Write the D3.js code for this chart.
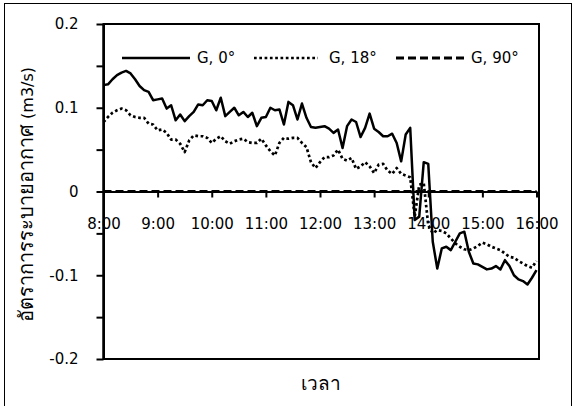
<!DOCTYPE html>
<html>
<head>
<meta charset="utf-8">
<script src="https://cdn.jsdelivr.net/npm/d3@7"></script>
<style>
  html, body { margin: 0; padding: 0; background: #fff; }
  svg text { font-family: "DejaVu Sans", Tahoma, sans-serif; fill: #000; }
</style>
</head>
<body>
<svg id="chart" width="575" height="406"></svg>
<script>
// Sample times, every 5 minutes from 8:00 to 16:00
const times = [
  "8:00","8:05","8:10","8:15","8:20","8:25","8:30","8:35","8:40","8:45","8:50","8:55",
  "9:00","9:05","9:10","9:15","9:20","9:25","9:30","9:35","9:40","9:45","9:50","9:55",
  "10:00","10:05","10:10","10:15","10:20","10:25","10:30","10:35","10:40","10:45","10:50","10:55",
  "11:00","11:05","11:10","11:15","11:20","11:25","11:30","11:35","11:40","11:45","11:50","11:55",
  "12:00","12:05","12:10","12:15","12:20","12:25","12:30","12:35","12:40","12:45","12:50","12:55",
  "13:00","13:05","13:10","13:15","13:20","13:25","13:30","13:35","13:40","13:45","13:50","13:55",
  "14:00","14:05","14:10","14:15","14:20","14:25","14:30","14:35","14:40","14:45","14:50","14:55",
  "15:00","15:05","15:10","15:15","15:20","15:25","15:30","15:35","15:40","15:45","15:50","15:55",
  "16:00"
];

// Ventilation rate (m3/s)
const g0 = [
  0.127,0.128,0.134,0.139,0.142,0.144,0.141,0.134,0.126,0.121,0.119,0.109,
  0.110,0.111,0.099,0.103,0.085,0.092,0.084,0.090,0.095,0.104,0.103,0.109,
  0.108,0.097,0.112,0.090,0.095,0.100,0.091,0.095,0.089,0.094,0.078,0.088,
  0.089,0.100,0.097,0.098,0.080,0.107,0.103,0.086,0.105,0.088,0.077,0.076,
  0.077,0.078,0.075,0.070,0.074,0.052,0.078,0.086,0.083,0.065,0.076,0.093,
  0.075,0.071,0.066,0.066,0.069,0.058,0.036,0.068,0.076,-0.034,-0.030,0.035,
  0.033,-0.060,-0.092,-0.068,-0.066,-0.070,-0.060,-0.050,-0.048,-0.072,-0.086,-0.087,
  -0.090,-0.093,-0.092,-0.089,-0.093,-0.082,-0.089,-0.100,-0.105,-0.107,-0.111,-0.103,
  -0.094
];
const g18 = [
  0.083,0.089,0.094,0.097,0.099,0.097,0.091,0.089,0.088,0.088,0.081,0.080,
  0.073,0.074,0.070,0.062,0.062,0.057,0.047,0.061,0.067,0.066,0.066,0.064,
  0.058,0.063,0.066,0.060,0.057,0.060,0.062,0.063,0.059,0.058,0.058,0.063,
  0.055,0.048,0.043,0.058,0.064,0.063,0.064,0.064,0.058,0.053,0.035,0.028,
  0.035,0.041,0.041,0.043,0.050,0.039,0.037,0.040,0.027,0.030,0.035,0.030,
  0.022,0.032,0.033,0.025,0.021,0.028,0.021,0.019,0.017,-0.030,0.008,0.010,
  -0.040,-0.050,-0.046,-0.047,-0.050,-0.056,-0.062,-0.066,-0.069,-0.070,-0.068,-0.065,
  -0.061,-0.063,-0.066,-0.068,-0.070,-0.074,-0.078,-0.079,-0.083,-0.086,-0.089,-0.091,
  -0.083
];
const g90 = [
  0,0,0,0,0,0,0,0,0,0,0,0,
  0,0,0,0,0,0,0,0,0,0,0,0,
  0,0,0,0,0,0,0,0,0,0,0,0,
  0,0,0,0,0,0,0,0,0,0,0,0,
  0,0,0,0,0,0,0,0,0,0,0,0,
  0,0,0,0,0,0,0,0,0,0,0,0,
  0,0,0,0,0,0,0,0,0,0,0,0,
  0,0,0,0,0,0,0,0,0,0,0,0,
  0
];

const seriesNames = ["G, 0°", "G, 18°", "G, 90°"];
const xTickLabels = ["8:00","9:00","10:00","11:00","12:00","13:00","14:00","15:00","16:00"];
const yTickValues = [-0.2,-0.15,-0.1,-0.05,0,0.05,0.1,0.15,0.2];
const yTickLabels = ["-0.2","-0.1","0","0.1","0.2"];
const yTitleThai = "อัตราการระบายอากาศ";
const yTitleUnit = " (m3/s)";
const xTitle = "เวลา";

const toMin = s => { const [h, m] = s.split(":").map(Number); return h * 60 + m; };

const svg = d3.select("#chart");
const plot = { left: 103.5, right: 539, top: 24, bottom: 359, xEnd: 536.5 };

const x = d3.scaleLinear().domain([toMin("8:00"), toMin("16:00")]).range([plot.left, plot.xEnd]);
const y = d3.scaleLinear().domain([-0.2, 0.2]).range([plot.bottom, plot.top]);

// outer chart border
svg.append("rect")
  .attr("x", 4.5).attr("y", 3.5).attr("width", 567).attr("height", 420)
  .attr("fill", "none").attr("stroke", "#000").attr("stroke-width", 1);

// plot frame
svg.append("rect")
  .attr("x", plot.left).attr("y", plot.top)
  .attr("width", plot.right - plot.left).attr("height", plot.bottom - plot.top)
  .attr("fill", "none").attr("stroke", "#000").attr("stroke-width", 2);

// y axis: ticks every 0.05, labels every 0.1
const yLabelSet = new Set(yTickLabels);
const yAxis = d3.axisLeft(y)
  .tickValues(yTickValues)
  .tickSize(7).tickSizeOuter(0).tickPadding(18)
  .tickFormat(d => { const s = String(+d.toFixed(2)); return yLabelSet.has(s) ? s : ""; });
const gy = svg.append("g").attr("transform", `translate(${plot.left},0)`).call(yAxis);
gy.select(".domain").attr("stroke", "#000").attr("stroke-width", 2);
gy.selectAll(".tick line").attr("stroke", "#000").attr("stroke-width", 2);
gy.selectAll(".tick text").attr("font-size", 15).attr("font-family", "DejaVu Sans, sans-serif");

// x axis on the zero line
const xAxis = d3.axisBottom(x)
  .tickValues(xTickLabels.map(toMin))
  .tickSize(6).tickSizeOuter(0).tickPadding(21)
  .tickFormat((d, i) => xTickLabels[i]);
const gx = svg.append("g").attr("transform", `translate(0,${y(0)})`).call(xAxis);
gx.select(".domain").attr("stroke", "#000").attr("stroke-width", 2);
gx.selectAll(".tick line").attr("stroke", "#000").attr("stroke-width", 2);
gx.selectAll(".tick text").attr("font-size", 15).attr("font-family", "DejaVu Sans, sans-serif");

// y axis line kept above the tick labels
svg.append("line")
  .attr("x1", plot.left).attr("x2", plot.left)
  .attr("y1", plot.top).attr("y2", plot.bottom)
  .attr("stroke", "#000").attr("stroke-width", 2);

// series
const styles = [
  { data: g0, width: 2.5, dash: null },
  { data: g18, width: 2.7, dash: "2.7,2.6" },
  { data: g90, width: 3, dash: "8,4" }
];
const line = d3.line().x((d, i) => x(toMin(times[i]))).y(d => y(d));
styles.slice().reverse().forEach(s => {
  svg.append("path")
    .datum(s.data)
    .attr("d", line)
    .attr("fill", "none")
    .attr("stroke", "#000")
    .attr("stroke-width", s.width)
    .attr("stroke-linejoin", "round")
    .attr("stroke-dasharray", s.dash);
});

// legend
const legendY = 58;
const legendItems = [
  { x1: 122, x2: 190, tx: 197 },
  { x1: 254, x2: 318, tx: 329 },
  { x1: 396, x2: 468, tx: 471 }
];
legendItems.forEach((it, i) => {
  svg.append("line")
    .attr("x1", it.x1).attr("x2", it.x2).attr("y1", legendY).attr("y2", legendY)
    .attr("stroke", "#000").attr("stroke-width", styles[i].width)
    .attr("stroke-dasharray", styles[i].dash);
  svg.append("text")
    .attr("x", it.tx).attr("y", legendY).attr("dy", "0.35em")
    .attr("font-size", 15)
    .text(seriesNames[i]);
});

// axis titles
const yt = svg.append("text")
  .attr("transform", `translate(27,${(plot.top + plot.bottom) / 2 + 3}) rotate(-90)`)
  .attr("text-anchor", "middle").attr("dy", "0.35em");
yt.append("tspan").attr("font-size", 20).text(yTitleThai);
yt.append("tspan").attr("font-size", 16).text(yTitleUnit);

svg.append("text")
  .attr("x", 321).attr("y", 383).attr("dy", "0.35em")
  .attr("text-anchor", "middle")
  .attr("font-size", 19)
  .text(xTitle);
</script>
</body>
</html>
